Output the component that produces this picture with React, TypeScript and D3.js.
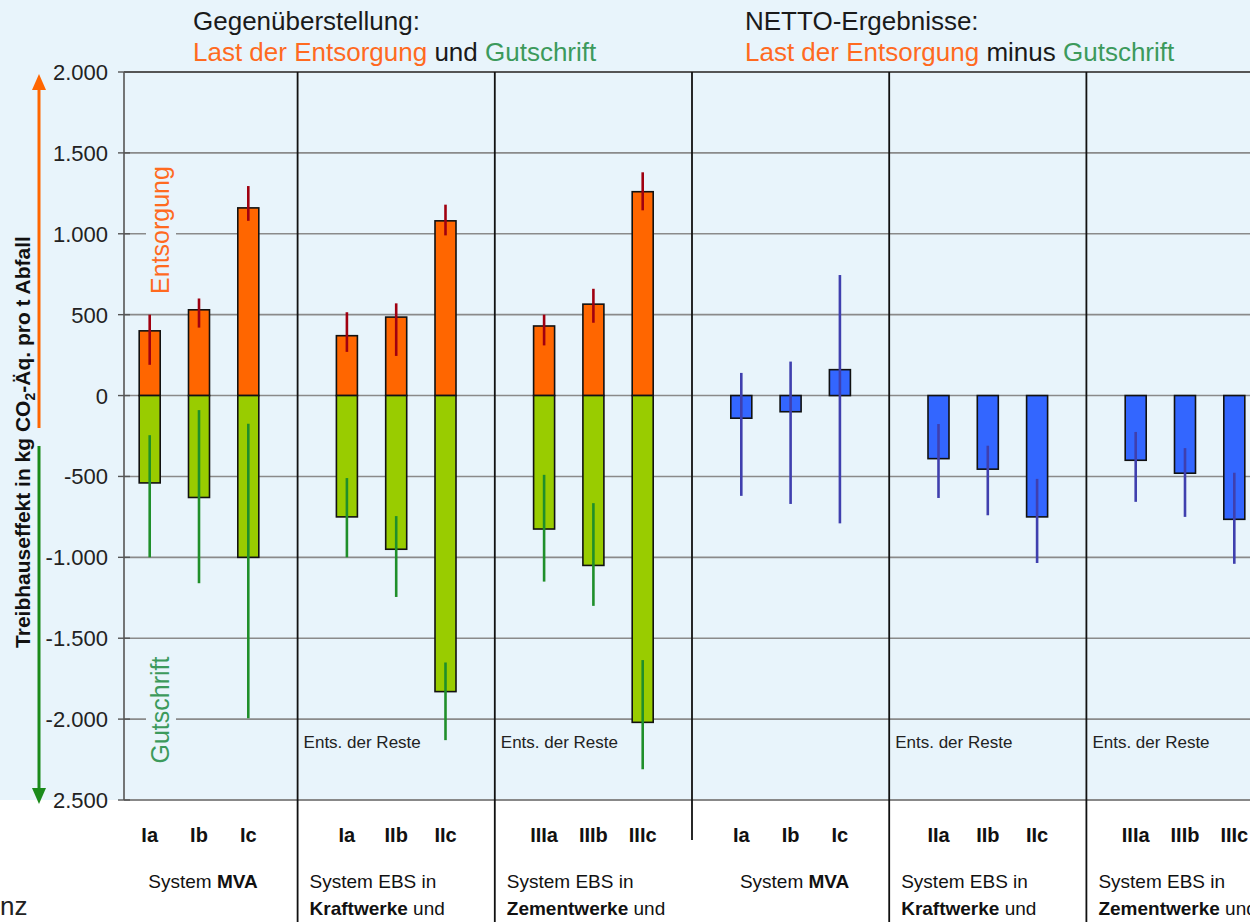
import React from 'react';
import * as d3 from 'd3';

// groups on the x axis, three variants each
const groups = ['MVA', 'EBS Kraftwerke', 'EBS Zementwerke', 'Netto MVA', 'Netto Kraftwerke', 'Netto Zementwerke'];
const variants = ['a', 'b', 'c'];
const catLabels = [
  ['Ia', 'Ib', 'Ic'],
  ['Ia', 'IIb', 'IIc'],
  ['IIIa', 'IIIb', 'IIIc'],
  ['Ia', 'Ib', 'Ic'],
  ['IIa', 'IIb', 'IIc'],
  ['IIIa', 'IIIb', 'IIIc'],
];

// Gegenüberstellung (groups 1-3)
const entsorgung = [400, 530, 1160, 370, 485, 1080, 430, 565, 1260];
const entsorgungLo = [190, 420, 1080, 270, 245, 990, 310, 450, 1145];
const entsorgungHi = [500, 600, 1295, 515, 570, 1180, 500, 660, 1380];
const gutschrift = [-540, -630, -1000, -750, -950, -1830, -825, -1050, -2020];
const gutschriftLo = [-1000, -1160, -1995, -1000, -1245, -2130, -1150, -1300, -2310];
const gutschriftHi = [-245, -90, -175, -510, -745, -1650, -490, -665, -1635];

// NETTO (groups 4-6)
const netto = [-140, -100, 160, -390, -455, -750, -400, -480, -765];
const nettoLo = [-620, -670, -790, -633, -740, -1035, -657, -750, -1040];
const nettoHi = [140, 210, 745, -176, -310, -515, -225, -325, -477];

const yTicks = [2000, 1500, 1000, 500, 0, -500, -1000, -1500, -2000, -2500];
const yTickLabels = ['2.000', '1.500', '1.000', '500', '0', '-500', '-1.000', '-1.500', '-2.000', '2.500'];

const FONT = "'Liberation Sans', Arial, sans-serif";
const ORANGE = '#ff6600';
const GREEN = '#99cc00';
const BLUE = '#3366ff';
const TXT_ORANGE = '#ff6a1f';
const TXT_GREEN = '#3c9a5c';

const y = d3.scaleLinear().domain([-2500, 2000]).range([800, 72]);
const xg = d3.scaleBand<string>().domain(groups).range([100.4, 100.4 + 6 * 197.2]);
const xs = d3.scalePoint<string>().domain(variants).range([0, xg.bandwidth()]).padding(1);
const cx = (gi: number, si: number) => (xg(groups[gi]) as number) + (xs(variants[si]) as number);

function Bar({ x, v, fill }: { x: number; v: number; fill: string }) {
  const y0 = y(0);
  const y1 = y(v);
  return (
    <rect x={x - 10.5} y={Math.min(y0, y1)} width={21} height={Math.abs(y1 - y0)}
      fill={fill} stroke="#111" strokeWidth={1.6} />
  );
}

function Err({ x, lo, hi, color }: { x: number; lo: number; hi: number; color: string }) {
  return <line x1={x} x2={x} y1={y(hi)} y2={y(lo)} stroke={color} strokeWidth={2.6} />;
}

export default function App() {
  const dividerEnds = [922, 922, 840, 922, 922];
  return (
    <svg width={1250} height={922} style={{ position: 'absolute', left: 0, top: 0, display: 'block' }}
      fontFamily={FONT}>
      <rect x={0} y={0} width={1250} height={800} fill="#e8f4fb" />
      <rect x={0} y={800} width={1250} height={122} fill="#ffffff" />

      {/* grid */}
      {yTicks.slice(0, 9).map((t) => (
        <line key={t} x1={124} x2={1250} y1={y(t)} y2={y(t)}
          stroke={t === 2000 ? '#555' : '#8a8a8a'} strokeWidth={t === 2000 ? 2 : 1.6} />
      ))}
      <line x1={124} x2={1250} y1={y(-2500)} y2={y(-2500)} stroke="#888" strokeWidth={2} />

      {/* y axis */}
      <line x1={124} x2={124} y1={y(2000)} y2={y(-2500)} stroke="#555" strokeWidth={1.6} />
      {yTicks.map((t, i) => (
        <g key={t}>
          <line x1={118} x2={130} y1={y(t)} y2={y(t)} stroke="#555" strokeWidth={1.4} />
          <text x={108} y={y(t) + 8} textAnchor="end" fontSize={22} fill="#222">{yTickLabels[i]}</text>
        </g>
      ))}

      {/* group dividers */}
      {groups.slice(1).map((g, i) => (
        <line key={g} x1={xg(g)} x2={xg(g)} y1={72} y2={dividerEnds[i]} stroke="#111" strokeWidth={1.8} />
      ))}

      {/* rotated in-plot labels */}
      <rect x={146} y={160} width={30} height={140} fill="#e8f4fb" />
      <text transform="translate(169,230) rotate(-90)" textAnchor="middle" fontSize={25} fill={TXT_ORANGE}>Entsorgung</text>
      <rect x={146} y={650} width={30} height={120} fill="#e8f4fb" />
      <text transform="translate(169,710) rotate(-90)" textAnchor="middle" fontSize={25} fill={TXT_GREEN}>Gutschrift</text>

      {/* Gegenüberstellung bars */}
      {[0, 1, 2].map((gi) => variants.map((_, si) => {
        const k = gi * 3 + si;
        const x = cx(gi, si);
        return (
          <g key={`c${k}`}>
            <Bar x={x} v={entsorgung[k]} fill={ORANGE} />
            <Bar x={x} v={gutschrift[k]} fill={GREEN} />
            <Err x={x} lo={entsorgungLo[k]} hi={entsorgungHi[k]} color="#a00010" />
            <Err x={x} lo={gutschriftLo[k]} hi={gutschriftHi[k]} color="#1f8f2a" />
          </g>
        );
      }))}

      {/* NETTO bars */}
      {[3, 4, 5].map((gi) => variants.map((_, si) => {
        const k = (gi - 3) * 3 + si;
        const x = cx(gi, si);
        return (
          <g key={`n${k}`}>
            <Bar x={x} v={netto[k]} fill={BLUE} />
            <Err x={x} lo={nettoLo[k]} hi={nettoHi[k]} color="#3f3fae" />
          </g>
        );
      }))}

      {/* Ents. der Reste */}
      {[1, 2, 4, 5].map((gi) => (
        <text key={gi} x={(xg(groups[gi]) as number) + 6} y={748} fontSize={17} fill="#222">Ents. der Reste</text>
      ))}

      {/* titles */}
      <text x={193} y={30} fontSize={26} fill="#1a1a1a">Gegenüberstellung:</text>
      <text x={193} y={61} fontSize={26}>
        <tspan fill={TXT_ORANGE}>Last der Entsorgung</tspan>
        <tspan fill="#1a1a1a"> und </tspan>
        <tspan fill={TXT_GREEN}>Gutschrift</tspan>
      </text>
      <text x={745} y={30} fontSize={26} fill="#1a1a1a">NETTO-Ergebnisse:</text>
      <text x={745} y={61} fontSize={26}>
        <tspan fill={TXT_ORANGE}>Last der Entsorgung</tspan>
        <tspan fill="#1a1a1a"> minus </tspan>
        <tspan fill={TXT_GREEN}>Gutschrift</tspan>
      </text>

      {/* arrows */}
      <line x1={39} x2={39} y1={428} y2={88} stroke={ORANGE} strokeWidth={3} />
      <path d="M32,90 L39,74 L46,90 Z" fill={ORANGE} />
      <line x1={39} x2={39} y1={446} y2={790} stroke="#1a8a1a" strokeWidth={3} />
      <path d="M32,788 L39,804 L46,788 Z" fill="#1a8a1a" />

      {/* y axis title */}
      <text transform="translate(30,442) rotate(-90)" textAnchor="middle" fontSize={21} fontWeight="bold" fill="#111">
        Treibhauseffekt in kg CO<tspan fontSize={14} dy={5}>2</tspan><tspan dy={-5}>-Äq. pro t Abfall</tspan>
      </text>

      {/* category labels */}
      {catLabels.map((labels, gi) => labels.map((l, si) => (
        <text key={`${gi}-${si}`} x={cx(gi, si)} y={842} textAnchor="middle" fontSize={20} fontWeight="bold" fill="#111">{l}</text>
      )))}

      {/* group labels */}
      {[0, 3].map((gi) => (
        <text key={`s${gi}`} x={(xg(groups[gi]) as number) + xg.bandwidth() / 2 + 4} y={888} textAnchor="middle" fontSize={19} fill="#111">
          System <tspan fontWeight="bold">MVA</tspan>
        </text>
      ))}
      {[[1, 'Kraftwerke'], [2, 'Zementwerke'], [4, 'Kraftwerke'], [5, 'Zementwerke']].map(([gi, w]) => (
        <g key={`e${gi}`}>
          <text x={(xg(groups[gi as number]) as number) + 12} y={888} fontSize={19} fill="#111">System EBS in</text>
          <text x={(xg(groups[gi as number]) as number) + 12} y={915} fontSize={19} fill="#111">
            <tspan fontWeight="bold">{w}</tspan> und
          </text>
        </g>
      ))}

      <text x={0} y={915} fontSize={26} fill="#222">nz</text>
    </svg>
  );
}
